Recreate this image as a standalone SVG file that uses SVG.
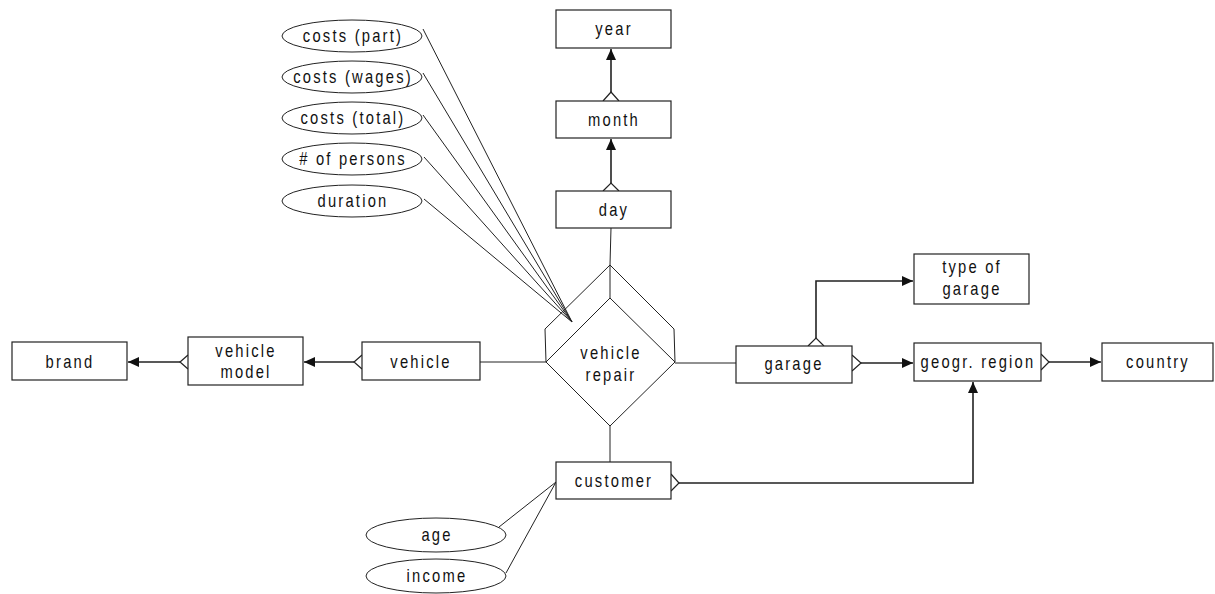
<svg xmlns="http://www.w3.org/2000/svg" width="1215" height="594" viewBox="0 0 1215 594">
<style>
.box{fill:#fff;stroke:#222;stroke-width:1.2}
.ell{fill:#fff;stroke:#222;stroke-width:1}
.t{font-family:"Liberation Sans",Arial,sans-serif;font-size:18px;letter-spacing:2.7px;fill:#111;text-anchor:middle}
.ln{fill:none;stroke:#222;stroke-width:1}
.ar{fill:none;stroke:#222;stroke-width:1.6}
.cf{fill:none;stroke:#222;stroke-width:1.2}
</style>
<defs>
<marker id="ah" markerUnits="userSpaceOnUse" markerWidth="12" markerHeight="12" refX="11" refY="5" orient="auto">
<path d="M0,0 L11,5 L0,10 Z" fill="#111"/>
</marker>
</defs>
<g id="connectors">
<line class="ln" x1="423" y1="29" x2="572" y2="322"/>
<line class="ln" x1="423" y1="73" x2="572" y2="322"/>
<line class="ln" x1="423" y1="115" x2="572" y2="322"/>
<line class="ln" x1="424" y1="157" x2="572" y2="322"/>
<line class="ln" x1="424" y1="199" x2="572" y2="322"/>
<line class="ln" x1="499" y1="527" x2="556" y2="482"/>
<line class="ln" x1="506" y1="573" x2="556" y2="482"/>
<line class="ln" x1="611" y1="228" x2="610" y2="265"/>
<line class="ln" x1="610" y1="426" x2="610" y2="462"/>
<line class="ln" x1="480" y1="362" x2="546" y2="362"/>
<line class="ln" x1="675" y1="363" x2="736" y2="363"/>
<polyline class="ar" points="611,92 611,49" marker-end="url(#ah)"/>
<polyline class="cf" points="603,101 611,92 619,101"/>
<polyline class="ar" points="611,183 611,139" marker-end="url(#ah)"/>
<polyline class="cf" points="603,191 611,183 619,191"/>
<polyline class="ar" points="354,362 304,362" marker-end="url(#ah)"/>
<polyline class="cf" points="362,355 354,362 362,369"/>
<polyline class="ar" points="180,362 128,362" marker-end="url(#ah)"/>
<polyline class="cf" points="188,355 180,362 188,369"/>
<polyline class="ar" points="816,338 816,281 913,281" marker-end="url(#ah)"/>
<polyline class="cf" points="808,346 816,338 824,346"/>
<polyline class="ar" points="861,363 913,363" marker-end="url(#ah)"/>
<polyline class="cf" points="852,355 861,363 852,371"/>
<polyline class="ar" points="1049,362 1101,362" marker-end="url(#ah)"/>
<polyline class="cf" points="1041,354 1049,362 1041,370"/>
<polyline class="ar" points="679,483 973,483 973,382" marker-end="url(#ah)"/>
<polyline class="cf" points="671,474 679,483 671,491"/>
</g>
<g id="vehicle-repair">
<polyline class="ln" points="546,362 545,329 610,265 674,329 675,362"/>
<line class="ln" x1="610" y1="265" x2="610" y2="298"/>
<polygon class="ln" points="610,298 675,362 610,426 546,362"/>
<text class="t" transform="translate(611,359) scale(0.82,1)">vehicle</text>
<text class="t" transform="translate(611,381) scale(0.82,1)">repair</text>
</g>
<g id="year"><rect class="box" x="556" y="10" width="115" height="38"/><text class="t" transform="translate(614,35) scale(0.82,1)">year</text></g>
<g id="month"><rect class="box" x="556" y="101" width="115" height="37"/><text class="t" transform="translate(614,126) scale(0.82,1)">month</text></g>
<g id="day"><rect class="box" x="556" y="191" width="115" height="37"/><text class="t" transform="translate(614,216) scale(0.82,1)">day</text></g>
<g id="brand"><rect class="box" x="12" y="342" width="115" height="38"/><text class="t" transform="translate(70,368) scale(0.82,1)">brand</text></g>
<g id="vehicle-model"><rect class="box" x="188" y="337" width="115" height="48"/><text class="t" transform="translate(246,357) scale(0.82,1)">vehicle</text><text class="t" transform="translate(246,378) scale(0.82,1)">model</text></g>
<g id="vehicle"><rect class="box" x="362" y="342" width="118" height="38"/><text class="t" transform="translate(421,368) scale(0.82,1)">vehicle</text></g>
<g id="garage"><rect class="box" x="736" y="346" width="116" height="37"/><text class="t" transform="translate(794,370) scale(0.82,1)">garage</text></g>
<g id="type-of-garage"><rect class="box" x="914" y="254" width="115" height="50"/><text class="t" transform="translate(972,273) scale(0.82,1)">type of</text><text class="t" transform="translate(972,295) scale(0.82,1)">garage</text></g>
<g id="geogr-region"><rect class="box" x="914" y="343" width="127" height="38"/><text class="t" transform="translate(978,368) scale(0.82,1)">geogr. region</text></g>
<g id="country"><rect class="box" x="1102" y="343" width="111" height="38"/><text class="t" transform="translate(1158,368) scale(0.82,1)">country</text></g>
<g id="customer"><rect class="box" x="556" y="462" width="115" height="37"/><text class="t" transform="translate(614,487) scale(0.82,1)">customer</text></g>
<g id="costs-part"><ellipse class="ell" cx="352" cy="36" rx="70" ry="16"/><text class="t" transform="translate(353,42) scale(0.82,1)">costs (part)</text></g>
<g id="costs-wages"><ellipse class="ell" cx="352" cy="77" rx="70" ry="16"/><text class="t" transform="translate(353,83) scale(0.82,1)">costs (wages)</text></g>
<g id="costs-total"><ellipse class="ell" cx="352" cy="118" rx="70" ry="16"/><text class="t" transform="translate(353,124) scale(0.82,1)">costs (total)</text></g>
<g id="persons"><ellipse class="ell" cx="352" cy="159" rx="70" ry="16"/><text class="t" transform="translate(353,165) scale(0.82,1)"># of persons</text></g>
<g id="duration"><ellipse class="ell" cx="352" cy="201" rx="70" ry="16"/><text class="t" transform="translate(353,207) scale(0.82,1)">duration</text></g>
<g id="age"><ellipse class="ell" cx="436" cy="535" rx="70" ry="17"/><text class="t" transform="translate(437,541) scale(0.82,1)">age</text></g>
<g id="income"><ellipse class="ell" cx="436" cy="576" rx="70" ry="17"/><text class="t" transform="translate(437,582) scale(0.82,1)">income</text></g>
</svg>
